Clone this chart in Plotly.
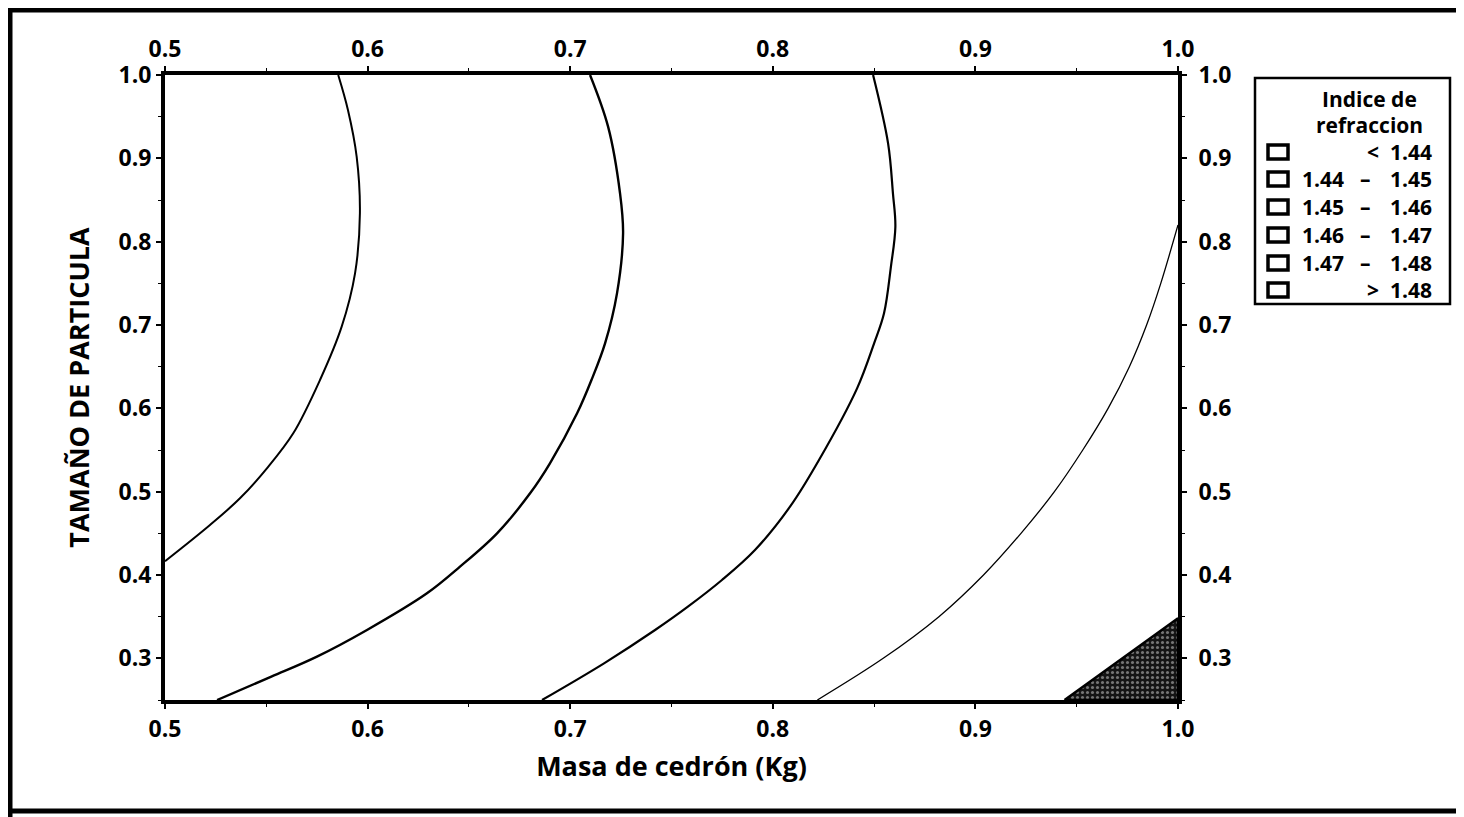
import plotly.graph_objects as go

# ---- data ----
levels = ["1.44", "1.45", "1.46", "1.47", "1.48"]

line_144_x = [0.5855, 0.5903, 0.5946, 0.5962, 0.5938, 0.5872, 0.5765, 0.5633, 0.5503, 0.5370, 0.5222, 0.5000]
line_144_y = [1.000, 0.958, 0.902, 0.834, 0.762, 0.698, 0.634, 0.570, 0.528, 0.492, 0.460, 0.4165]

line_145_x = [0.7098, 0.7187, 0.7246, 0.7261, 0.7231, 0.7172, 0.7105, 0.7034, 0.6900, 0.6802, 0.6639, 0.6456, 0.6293, 0.5997, 0.5750, 0.5525, 0.5257]
line_145_y = [1.000, 0.938, 0.858, 0.810, 0.738, 0.678, 0.634, 0.594, 0.534, 0.498, 0.450, 0.410, 0.378, 0.334, 0.302, 0.278, 0.250]

line_146_x = [0.8495, 0.8569, 0.8593, 0.8605, 0.8583, 0.8549, 0.8500, 0.8416, 0.8228, 0.8085, 0.7912, 0.7749, 0.7581, 0.7419, 0.7167, 0.6861]
line_146_y = [1.000, 0.918, 0.858, 0.818, 0.770, 0.714, 0.678, 0.624, 0.538, 0.482, 0.430, 0.394, 0.362, 0.334, 0.294, 0.250]

line_147_x = [1.0000, 0.9915, 0.9845, 0.9760, 0.9655, 0.9530, 0.9390, 0.9225, 0.9040, 0.8820, 0.8545, 0.8220]
line_147_y = [0.820, 0.750, 0.700, 0.650, 0.600, 0.550, 0.500, 0.450, 0.400, 0.350, 0.300, 0.250]

region_148_x = [0.944, 0.972, 1.000, 1.000, 0.944]
region_148_y = [0.250, 0.299, 0.348, 0.250, 0.250]

legend_left = ["", "1.44", "1.45", "1.46", "1.47", ""]
legend_mid = ["<", "–", "–", "–", "–", ">"]
legend_right = ["1.44", "1.45", "1.46", "1.47", "1.48", "1.48"]

x_ticks = [0.5, 0.6, 0.7, 0.8, 0.9, 1.0]
y_ticks = [0.3, 0.4, 0.5, 0.6, 0.7, 0.8, 0.9, 1.0]

FONT = "Open Sans"

fig = go.Figure()

lines = [(line_144_x, line_144_y, 2.0), (line_145_x, line_145_y, 2.4),
         (line_146_x, line_146_y, 2.2), (line_147_x, line_147_y, 1.3)]
for (lx, ly, w), lev in zip(lines, levels):
    fig.add_trace(go.Scatter(x=lx, y=ly, mode="lines",
                             line=dict(color="black", width=w, shape="spline", smoothing=1.0),
                             name=lev, showlegend=False, hoverinfo="skip"))

fig.add_trace(go.Scatter(x=region_148_x, y=region_148_y, mode="lines", fill="toself",
                         fillcolor="rgba(30,30,30,1)",
                         fillpattern=dict(shape=".", fgcolor="#d8d8d8", bgcolor="#141414", size=5, solidity=0.3),
                         line=dict(color="black", width=2.5), showlegend=False, hoverinfo="skip"))

# invisible trace on the mirrored axes
fig.add_trace(go.Scatter(x=[0.5, 1.0], y=[0.25, 1.0], xaxis="x2", yaxis="y2", mode="markers",
                         marker=dict(opacity=0), showlegend=False, hoverinfo="skip"))

tickfont = dict(family=FONT, size=23, color="black", weight="bold")
common_x = dict(range=[0.5, 1.0], tickvals=x_ticks, tickformat=".1f", ticks="outside", ticklen=5,
                tickwidth=2, tickcolor="black", showline=True, linecolor="black", linewidth=4,
                showgrid=False, zeroline=False, tickfont=tickfont, automargin=False,
                minor=dict(dtick=0.05, ticks="outside", ticklen=3, tickcolor="black", tickwidth=1))
common_y = dict(range=[0.25, 1.0], tickvals=y_ticks, tickformat=".1f", ticks="outside", ticklen=5,
                tickwidth=2, tickcolor="black", showline=True, linecolor="black", linewidth=4,
                showgrid=False, zeroline=False, tickfont=tickfont, automargin=False,
                minor=dict(tick0=0.25, dtick=0.05, ticks="outside", ticklen=3, tickcolor="black", tickwidth=1))

# page has an 8px body margin: plot area sits at page x 165..1178, y 75..700
fig.update_layout(
    width=1456, height=809,
    margin=dict(l=157, r=286, t=67, b=117),
    paper_bgcolor="white", plot_bgcolor="white",
    xaxis=dict(**common_x, title=dict(text="Masa de cedrón (Kg)",
                                      font=dict(family=FONT, size=27, color="black", weight="bold"), standoff=16)),
    xaxis2=dict(**common_x, overlaying="x", side="top", matches="x"),
    yaxis=dict(**common_y, title=dict(text="TAMAÑO DE PARTICULA",
                                      font=dict(family=FONT, size=27, color="black", weight="bold"), standoff=22)),
    yaxis2=dict(**common_y, overlaying="y", side="right", matches="y", ticklabelstandoff=7),
    showlegend=False,
)

# ---- manual legend (page px -> paper coords) ----
def px(xp):
    return (xp - 165) / 1013.0

def py(yp):
    return (700 - yp) / 625.0

shapes = []
shapes.append(dict(type="rect", xref="paper", yref="paper", x0=px(1255), x1=px(1450), y0=py(304), y1=py(78),
                   line=dict(color="black", width=2.5), fillcolor="white"))
legfont = dict(family=FONT, size=21, color="black", weight="bold")

def ann(text, x, y, xanchor="center"):
    return dict(text=text, x=px(x), y=py(y), xref="paper", yref="paper", showarrow=False,
                xanchor=xanchor, yanchor="middle", font=legfont)

annotations = [ann("Indice de", 1369, 99), ann("refraccion", 1369, 125)]
row_y = [152, 179, 207, 235, 263, 290]
for i, yy in enumerate(row_y):
    shapes.append(dict(type="rect", xref="paper", yref="paper", x0=px(1268), x1=px(1288),
                       y0=py(yy + 7), y1=py(yy - 7), line=dict(color="black", width=3.5), fillcolor="white"))
    if legend_left[i]:
        annotations.append(ann(legend_left[i], 1300, yy, "left"))
        annotations.append(ann(legend_mid[i], 1365, yy))
    else:
        annotations.append(ann(legend_mid[i], 1373, yy))
    annotations.append(ann(legend_right[i], 1434, yy, "right"))

# scanned page frame
shapes.append(dict(type="line", xref="paper", yref="paper", x0=px(8), x1=px(1464), y0=py(10), y1=py(10),
                   line=dict(color="black", width=5)))
shapes.append(dict(type="line", xref="paper", yref="paper", x0=px(10), x1=px(10), y0=py(8), y1=py(817),
                   line=dict(color="black", width=5)))
shapes.append(dict(type="line", xref="paper", yref="paper", x0=px(8), x1=px(1464), y0=py(811), y1=py(811),
                   line=dict(color="black", width=5)))

fig.update_layout(shapes=shapes, annotations=annotations)

fig.write_html("out.html")
